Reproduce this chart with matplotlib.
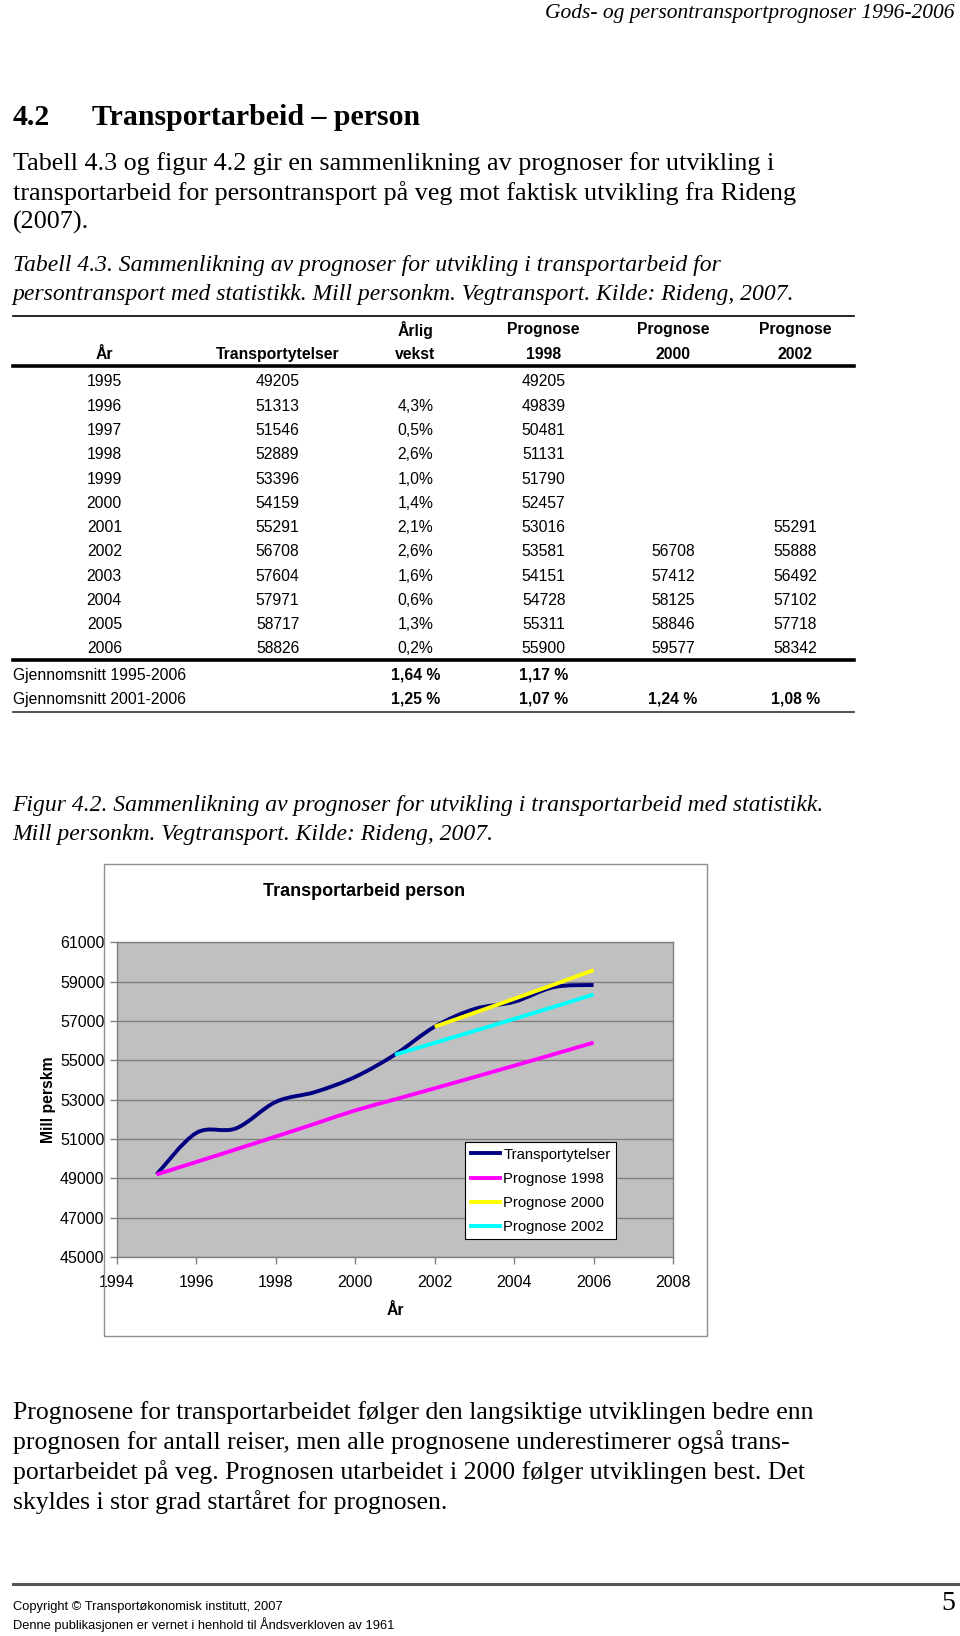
import numpy as np
import matplotlib
matplotlib.use("Agg")
import matplotlib.pyplot as plt
from matplotlib import font_manager
from matplotlib.lines import Line2D
from matplotlib.patches import Rectangle, PathPatch
from matplotlib.path import Path

# ---- data -----------------------------------------------------------
years = [1995, 1996, 1997, 1998, 1999, 2000, 2001, 2002, 2003, 2004, 2005, 2006]
transport = [49205, 51313, 51546, 52889, 53396, 54159, 55291, 56708, 57604, 57971, 58717, 58826]
vekst = ["", "4,3%", "0,5%", "2,6%", "1,0%", "1,4%", "2,1%", "2,6%", "1,6%", "0,6%", "1,3%", "0,2%"]
prog1998 = [49205, 49839, 50481, 51131, 51790, 52457, 53016, 53581, 54151, 54728, 55311, 55900]
years2000 = [2002, 2003, 2004, 2005, 2006]
prog2000 = [56708, 57412, 58125, 58846, 59577]
years2002 = [2001, 2002, 2003, 2004, 2005, 2006]
prog2002 = [55291, 55888, 56492, 57102, 57718, 58342]

avg_labels = ["Gjennomsnitt 1995-2006", "Gjennomsnitt 2001-2006"]
avg_values = [["1,64 %", "1,17 %", "", ""],
              ["1,25 %", "1,07 %", "1,24 %", "1,08 %"]]

series_names = ["Transportytelser", "Prognose 1998", "Prognose 2000", "Prognose 2002"]
series_colors = ["#000080", "#FF00FF", "#FFFF00", "#00FFFF"]

para1 = ["Tabell 4.3 og figur 4.2 gir en sammenlikning av prognoser for utvikling i",
         "transportarbeid for persontransport på veg mot faktisk utvikling fra Rideng",
         "(2007)."]
tab_caption = ["Tabell 4.3. Sammenlikning av prognoser for utvikling i transportarbeid for",
               "persontransport med statistikk. Mill personkm. Vegtransport. Kilde: Rideng, 2007."]
fig_caption = ["Figur 4.2. Sammenlikning av prognoser for utvikling i transportarbeid med statistikk.",
               "Mill personkm. Vegtransport. Kilde: Rideng, 2007."]
para2 = ["Prognosene for transportarbeidet følger den langsiktige utviklingen bedre enn",
         "prognosen for antall reiser, men alle prognosene underestimerer også trans-",
         "portarbeidet på veg. Prognosen utarbeidet i 2000 følger utviklingen best. Det",
         "skyldes i stor grad startåret for prognosen."]

SERIF = "Liberation Serif"
SANS = "Liberation Sans"
names = {f.name for f in font_manager.fontManager.ttflist}
if "Liberation Sans Narrow" in names:
    TAB_FONT, TAB_SIZE = "Liberation Sans Narrow", 13.5
else:
    TAB_FONT, TAB_SIZE = SANS, 11.3

# page coordinates are read in a 920 x 1568 grid
W, H = 920.0, 1568.0
def fx(x):
    return x / W
def fy(y):
    return 1 - y / H


def smooth_path(xs, ys):
    # Excel-like smoothed line: cubic Bezier through the points
    pts = list(zip(xs, ys))
    n = len(pts)
    verts = [pts[0]]
    codes = [Path.MOVETO]
    for i in range(n - 1):
        p0 = pts[i - 1] if i > 0 else pts[i]
        p1, p2 = pts[i], pts[i + 1]
        p3 = pts[i + 2] if i + 2 < n else pts[i + 1]
        c1 = (p1[0] + (p2[0] - p0[0]) / 6, p1[1] + (p2[1] - p0[1]) / 6)
        c2 = (p2[0] - (p3[0] - p1[0]) / 6, p2[1] - (p3[1] - p1[1]) / 6)
        verts += [c1, c2, p2]
        codes += [Path.CURVE4] * 3
    return Path(verts, codes)


fig = plt.figure(figsize=(9.6, 16.36), dpi=100)


def hline(x0, x1, y, lw=1.0, color="black"):
    fig.add_artist(Line2D([fx(x0), fx(x1)], [fy(y), fy(y)],
                          transform=fig.transFigure, lw=lw, color=color))


def ftext(x, y, s, **kw):
    kw.setdefault("va", "center")
    fig.text(fx(x), fy(y), s, **kw)


# ---- header and text ------------------------------------------------
ftext(915, 13, "Gods- og persontransportprognoser 1996-2006", ha="right",
      family=SERIF, style="italic", size=15.5)
ftext(12, 113, "4.2", family=SERIF, weight="bold", size=21.5)
ftext(88, 113, "Transportarbeid – person", family=SERIF, weight="bold", size=21.5)
for i, line in enumerate(para1):
    ftext(12, 157 + i * 28.2, line, family=SERIF, size=18.8)
for i, line in enumerate(tab_caption):
    ftext(12, 254 + i * 28.2, line, family=SERIF, style="italic", size=17.0)

# ---- table ----------------------------------------------------------
col_x = [100, 266, 398, 521, 645, 762]
hline(12, 818, 303, lw=1.2)
hdr1 = ["", "", "Årlig", "Prognose", "Prognose", "Prognose"]
hdr2 = ["År", "Transportytelser", "vekst", "1998", "2000", "2002"]
for x, a, b in zip(col_x, hdr1, hdr2):
    if a:
        ftext(x, 316, a, ha="center", family=TAB_FONT, weight="bold", size=TAB_SIZE)
    ftext(x, 340, b, ha="center", family=TAB_FONT, weight="bold", size=TAB_SIZE)
hline(12, 818, 351, lw=2.6)

row_step = (622 - 366) / 11.0
for i, yr in enumerate(years):
    y = 366 + i * row_step
    cells = [str(yr), str(transport[i]), vekst[i], str(prog1998[i]), "", ""]
    if yr in years2000:
        cells[4] = str(prog2000[years2000.index(yr)])
    if yr in years2002:
        cells[5] = str(prog2002[years2002.index(yr)])
    for x, c in zip(col_x, cells):
        if c:
            ftext(x, y, c, ha="center", family=TAB_FONT, size=TAB_SIZE)
hline(12, 818, 633, lw=2.6)
for i, (lab, vals) in enumerate(zip(avg_labels, avg_values)):
    y = 647 + i * 23.3
    ftext(12, y, lab, ha="left", family=TAB_FONT, size=TAB_SIZE)
    for x, v in zip(col_x[2:], vals):
        if v:
            ftext(x, y, v, ha="center", family=TAB_FONT, weight="bold", size=TAB_SIZE)
hline(12, 818, 682, lw=1.2, color="#333333")

# ---- figure caption -------------------------------------------------
for i, line in enumerate(fig_caption):
    ftext(12, 772 + i * 27.5, line, family=SERIF, style="italic", size=17.0)

# ---- chart ----------------------------------------------------------
fig.add_artist(Rectangle((fx(100), fy(1280)), fx(678) - fx(100), (1280 - 828) / H,
                         transform=fig.transFigure, fill=False,
                         edgecolor="#909090", lw=1.0))
ftext(349, 854, "Transportarbeid person", ha="center", family=SANS,
      weight="bold", size=13)

ax = fig.add_axes([fx(112), fy(1205), fx(645) - fx(112), (1205 - 903) / H])
ax.set_facecolor("#C0C0C0")
ax.set_xlim(1994, 2008)
ax.set_ylim(45000, 61000)
ax.set_xticks(np.arange(1994, 2009, 2))
ax.set_yticks(np.arange(45000, 61001, 2000))
ax.yaxis.grid(True, color="#808080", lw=1.0)
ax.set_axisbelow(True)
for side in ["left", "bottom", "top", "right"]:
    ax.spines[side].set_color("#808080")
    ax.spines[side].set_linewidth(1.0)
ax.tick_params(axis="both", direction="out", length=5, width=1.0, color="#808080",
               labelsize=11.5)
ax.tick_params(axis="y", pad=4)
ax.tick_params(axis="x", pad=8)
for lab in ax.get_xticklabels() + ax.get_yticklabels():
    lab.set_family(SANS)
ax.set_ylabel("Mill perskm", family=SANS, weight="bold", size=11.3, labelpad=3)
ax.set_xlabel("År", family=SANS, weight="bold", size=11.3, labelpad=9)

all_x = [years, years, years2000, years2002]
all_y = [transport, prog1998, prog2000, prog2002]
for xs, ys, c in zip(all_x, all_y, series_colors):
    ax.add_patch(PathPatch(smooth_path(xs, ys), fill=False, edgecolor=c,
                           lw=2.8, capstyle="butt", joinstyle="round", zorder=3))

handles = [Line2D([], [], color=c, lw=2.8) for c in series_colors]
leg = ax.legend(handles, series_names, loc="upper left",
                bbox_to_anchor=(fx(446), fy(1095)), bbox_transform=fig.transFigure,
                frameon=True, fancybox=False, framealpha=1, edgecolor="black",
                borderaxespad=0, borderpad=0.35, handlelength=2.0,
                handletextpad=0.2, labelspacing=0.68,
                prop={"family": SANS, "size": 10.7})
leg.get_frame().set_linewidth(0.8)

# ---- closing text and footer ----------------------------------------
for i, line in enumerate(para2):
    ftext(12, 1354 + i * 28.4, line, family=SERIF, size=18.5)

hline(12, 920, 1518, lw=2.2, color="#555555")
ftext(12, 1540, "Copyright © Transportøkonomisk institutt, 2007", family=SANS, size=9.3)
ftext(12, 1557, "Denne publikasjonen er vernet i henhold til Åndsverkloven av 1961",
      family=SANS, size=9.3)
ftext(915, 1537, "5", ha="right", family=SERIF, size=20)

fig.savefig("out.png", dpi=100)
